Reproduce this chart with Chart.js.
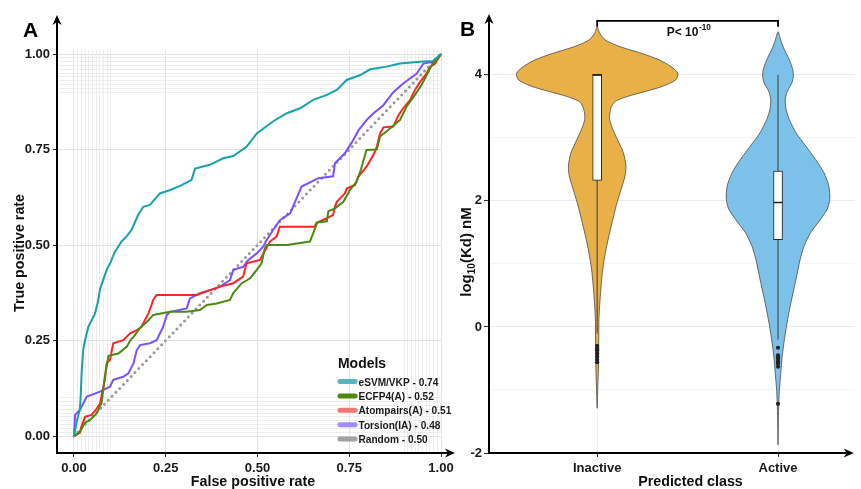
<!DOCTYPE html>
<html><head><meta charset="utf-8">
<script src="https://cdn.jsdelivr.net/npm/chart.js@4.4.1/dist/chart.umd.min.js"></script>
<style>
html,body{margin:0;padding:0;background:#fff;width:861px;height:489px;overflow:hidden;position:relative}
canvas{position:absolute;top:0}
#cA{left:0}
#cB{left:450px}
</style></head>
<body>
<canvas id="cA" width="460" height="489"></canvas>
<canvas id="cB" width="411" height="489"></canvas>
<script>
const FONT = "'Liberation Sans', Arial, Helvetica, sans-serif";

// ---------------- Panel A: ROC data ----------------
const modelNames = ['eSVM/VKP', 'ECFP4(A)', 'Atompairs(A)', 'Torsion(IA)', 'Random'];
const modelAUC = ['0.74', '0.52', '0.51', '0.48', '0.50'];

const esvmFPR = [0, 0.008, 0.016, 0.018, 0.021, 0.025, 0.030, 0.039, 0.052, 0.057, 0.065, 0.071, 0.080, 0.089, 0.100, 0.110, 0.120, 0.130, 0.143, 0.157, 0.175, 0.189, 0.207, 0.234, 0.262, 0.289, 0.320, 0.330, 0.370, 0.407, 0.434, 0.470, 0.498, 0.543, 0.580, 0.616, 0.652, 0.689, 0.716, 0.743, 0.780, 0.807, 0.852, 0.888, 0.943, 0.978, 1.0];
const esvmTPR = [0, 0.040, 0.070, 0.100, 0.170, 0.225, 0.250, 0.286, 0.310, 0.320, 0.350, 0.385, 0.410, 0.435, 0.455, 0.480, 0.495, 0.510, 0.522, 0.540, 0.579, 0.600, 0.605, 0.635, 0.644, 0.655, 0.670, 0.700, 0.710, 0.727, 0.733, 0.757, 0.792, 0.824, 0.845, 0.858, 0.880, 0.893, 0.906, 0.932, 0.945, 0.960, 0.967, 0.975, 0.980, 0.982, 1.0];

const ecfpFPR = [0, 0.016, 0.030, 0.044, 0.062, 0.075, 0.084, 0.094, 0.121, 0.144, 0.153, 0.166, 0.180, 0.203, 0.216, 0.262, 0.307, 0.343, 0.362, 0.389, 0.425, 0.434, 0.457, 0.480, 0.498, 0.511, 0.520, 0.525, 0.580, 0.643, 0.663, 0.689, 0.693, 0.711, 0.734, 0.752, 0.770, 0.780, 0.797, 0.825, 0.834, 0.861, 0.888, 0.906, 0.929, 0.947, 0.966, 0.975, 1.0];
const ecfpTPR = [0, 0.011, 0.035, 0.042, 0.060, 0.086, 0.155, 0.210, 0.216, 0.234, 0.250, 0.264, 0.283, 0.303, 0.317, 0.325, 0.325, 0.330, 0.343, 0.347, 0.356, 0.374, 0.400, 0.413, 0.435, 0.452, 0.491, 0.500, 0.500, 0.509, 0.559, 0.562, 0.588, 0.596, 0.613, 0.644, 0.666, 0.692, 0.749, 0.750, 0.784, 0.805, 0.827, 0.862, 0.893, 0.919, 0.954, 0.971, 1.0];

const atomFPR = [0, 0.016, 0.020, 0.030, 0.048, 0.062, 0.071, 0.084, 0.089, 0.098, 0.107, 0.134, 0.153, 0.171, 0.184, 0.193, 0.203, 0.216, 0.225, 0.334, 0.371, 0.398, 0.434, 0.461, 0.470, 0.507, 0.516, 0.534, 0.552, 0.561, 0.655, 0.661, 0.689, 0.706, 0.711, 0.716, 0.738, 0.743, 0.766, 0.775, 0.797, 0.816, 0.825, 0.834, 0.843, 0.870, 0.884, 0.897, 0.916, 0.929, 0.943, 0.961, 0.970, 0.984, 1.0];
const atomTPR = [0, 0.008, 0.024, 0.050, 0.055, 0.072, 0.085, 0.147, 0.190, 0.199, 0.243, 0.251, 0.269, 0.277, 0.286, 0.303, 0.321, 0.356, 0.369, 0.369, 0.382, 0.391, 0.400, 0.417, 0.452, 0.461, 0.478, 0.509, 0.522, 0.548, 0.548, 0.558, 0.570, 0.579, 0.600, 0.613, 0.635, 0.648, 0.657, 0.679, 0.705, 0.736, 0.757, 0.792, 0.808, 0.810, 0.840, 0.858, 0.880, 0.906, 0.927, 0.949, 0.966, 0.975, 1.0];

const torsFPR = [0, 0.003, 0.016, 0.035, 0.071, 0.098, 0.107, 0.134, 0.148, 0.162, 0.171, 0.180, 0.207, 0.225, 0.243, 0.253, 0.262, 0.307, 0.316, 0.343, 0.371, 0.398, 0.425, 0.434, 0.461, 0.475, 0.498, 0.516, 0.525, 0.543, 0.561, 0.589, 0.620, 0.666, 0.706, 0.711, 0.738, 0.761, 0.775, 0.797, 0.816, 0.843, 0.870, 0.897, 0.934, 0.952, 0.980, 1.0];
const torsTPR = [0, 0.055, 0.068, 0.103, 0.116, 0.129, 0.147, 0.155, 0.164, 0.190, 0.225, 0.238, 0.243, 0.251, 0.286, 0.317, 0.325, 0.334, 0.360, 0.374, 0.382, 0.391, 0.408, 0.435, 0.443, 0.461, 0.478, 0.496, 0.513, 0.540, 0.565, 0.583, 0.653, 0.675, 0.680, 0.714, 0.740, 0.775, 0.800, 0.827, 0.845, 0.866, 0.900, 0.923, 0.949, 0.975, 0.980, 1.0];

const randFPR = [0, 1];
const randTPR = [0, 1];

const majorTicksA = [0, 0.25, 0.5, 0.75, 1];
const minorGridA = [0.01, 0.02, 0.03, 0.04, 0.05, 0.06, 0.07, 0.08, 0.09, 0.1, 0.9, 0.91, 0.92, 0.93, 0.94, 0.95, 0.96, 0.97, 0.98, 0.99];

// ---------------- Panel B: violin data ----------------
const classNames = ['Inactive', 'Active'];
const classPos = [1, 2];
const inactiveY  = [-1.29, -0.921, -0.658, -0.395, -0.132, 0.132, 0.395, 0.658, 0.921, 1.184, 1.447, 1.711, 1.921, 2.132, 2.395, 2.553, 2.763, 2.974, 3.132, 3.289, 3.395, 3.50, 3.58, 3.66, 3.74, 3.816, 3.921, 4.026, 4.132, 4.237, 4.342, 4.447, 4.553, 4.658, 4.763];
const inactiveHW = [0, 0.004, 0.007, 0.008, 0.009, 0.010, 0.015, 0.022, 0.031, 0.046, 0.065, 0.087, 0.105, 0.127, 0.154, 0.159, 0.145, 0.112, 0.087, 0.069, 0.070, 0.080, 0.100, 0.170, 0.270, 0.360, 0.435, 0.446, 0.408, 0.344, 0.245, 0.127, 0.045, 0.0145, 0];
const activeY  = [-1.868, -1.447, -1.237, -1.026, -0.816, -0.5, -0.184, 0.132, 0.447, 0.763, 1.079, 1.289, 1.5, 1.711, 1.868, 2.026, 2.237, 2.447, 2.658, 2.868, 3.079, 3.289, 3.447, 3.605, 3.737, 3.868, 3.974, 4.079, 4.237, 4.395, 4.553, 4.684];
const activeHW = [0, 0.002, 0.004, 0.007, 0.013, 0.022, 0.036, 0.054, 0.076, 0.100, 0.123, 0.145, 0.181, 0.236, 0.272, 0.286, 0.281, 0.254, 0.208, 0.154, 0.100, 0.063, 0.045, 0.040, 0.051, 0.076, 0.085, 0.082, 0.063, 0.036, 0.0145, 0];

const boxQ1 = [2.326, 1.384];
const boxQ3 = [4.0, 2.474];
const boxMedian = [4.0, 1.974];
const whiskerLow = [-0.10, -0.20];
const whiskerHigh = [4.0, 4.0];
const inactiveOutliers = [-0.30, -0.34, -0.37, -0.42, -0.47, -0.52, -0.56];
const activeOutliers = [-0.33, -0.45, -0.48, -0.51, -0.55, -0.58, -0.63, -1.22];
const bracketY = [4.762, 4.857];
const yTicksB = [-2, -1, 0, 1, 2, 3, 4];
const yLabelTicksB = [-2, 0, 2, 4];

// ---------------- styles ----------------
const lineColors = ['#17A2A8', '#4B8A0E', '#FF2424', '#7B50FF', '#999999'];
const legendColors = ['#58B7BE', '#4B8A0E', '#F27878', '#A68AFF', '#A2A2A2'];
const violinColors = ['#E8B047', '#7CC1EA'];

function pts(xs, ys) { return xs.map((x, i) => ({x: x, y: ys[i]})); }

// text drawn with slight horizontal compression (condensed look)
function ctext(ctx, t, x, y, size, align, sx) {
  ctx.save();
  ctx.font = 'bold ' + size + 'px ' + FONT;
  const w = ctx.measureText(t).width * sx;
  let left = x;
  if (align === 'center') left = x - w / 2; else if (align === 'right') left = x - w;
  ctx.translate(left, y); ctx.scale(sx, 1);
  ctx.textAlign = 'left';
  ctx.fillText(t, 0, 0);
  ctx.restore();
  return w;
}

function drawArrows(ctx, x0, y0, xEnd, yEnd) {
  ctx.save();
  ctx.strokeStyle = '#000'; ctx.fillStyle = '#000'; ctx.lineWidth = 2;
  ctx.beginPath(); ctx.moveTo(x0, y0); ctx.lineTo(xEnd - 5, y0); ctx.stroke();
  ctx.beginPath(); ctx.moveTo(x0, y0 + 1); ctx.lineTo(x0, yEnd + 5); ctx.stroke();
  ctx.beginPath(); ctx.moveTo(xEnd, y0); ctx.lineTo(xEnd - 10, y0 - 4.5); ctx.lineTo(xEnd - 7, y0); ctx.lineTo(xEnd - 10, y0 + 4.5); ctx.closePath(); ctx.fill();
  ctx.beginPath(); ctx.moveTo(x0, yEnd); ctx.lineTo(x0 - 4.5, yEnd + 10); ctx.lineTo(x0, yEnd + 7); ctx.lineTo(x0 + 4.5, yEnd + 10); ctx.closePath(); ctx.fill();
  ctx.restore();
}

function rotatedText(ctx, cx, cy, parts, sx) {
  ctx.save();
  ctx.translate(cx, cy); ctx.rotate(-Math.PI / 2); ctx.scale(sx, 1);
  let total = 0;
  parts.forEach(p => { ctx.font = 'bold ' + p.size + 'px ' + FONT; p.w = ctx.measureText(p.t).width; total += p.w; });
  let x = -total / 2;
  ctx.fillStyle = '#111'; ctx.textAlign = 'left'; ctx.textBaseline = 'alphabetic';
  parts.forEach(p => { ctx.font = 'bold ' + p.size + 'px ' + FONT; ctx.fillText(p.t, x, 5.5 + (p.dy || 0)); x += p.w; });
  ctx.restore();
}

// ---------------- Chart A ----------------
const decorA = {
  id: 'decorA',
  afterDatasetsDraw(chart) {
    const ctx = chart.ctx, a = chart.chartArea;
    drawArrows(ctx, a.left, a.bottom, a.right + 14, 15);
    ctx.save();
    ctx.fillStyle = '#000'; ctx.font = 'bold 21px ' + FONT; ctx.textAlign = 'center'; ctx.textBaseline = 'middle';
    ctx.fillText('A', 30.5, 31);
    ctx.fillStyle = '#111'; ctx.textBaseline = 'alphabetic';
    ctext(ctx, 'False positive rate', 253, 486, 15, 'center', 0.95);
    ctx.restore();
    rotatedText(ctx, 18.5, 253, [{t: 'True positive rate', size: 15}], 0.95);
    // legend
    ctx.save();
    ctx.fillStyle = '#111'; ctx.textBaseline = 'alphabetic';
    ctext(ctx, 'Models', 338, 368, 15, 'left', 0.93);
    chart.data.datasets.forEach((ds, i) => {
      const y = 381.5 + i * 14.4;
      ctx.strokeStyle = legendColors[i]; ctx.lineWidth = 5; ctx.lineCap = 'round';
      ctx.beginPath(); ctx.moveTo(340, y); ctx.lineTo(355, y); ctx.stroke();
      ctx.fillStyle = '#1a1a1a';
      ctext(ctx, modelNames[i] + ' - ' + modelAUC[i], 358.5, y + 4, 11, 'left', 0.92);
    });
    ctx.restore();
  }
};

const allTicksA = majorTicksA.concat(minorGridA);
function isMajorA(c) { return c.tick && majorTicksA.includes(c.tick.value); }
const tickFontA = {family: FONT, size: 13, weight: 'bold'};
function gridA() {
  return {color: c => isMajorA(c) ? '#E3E3E3' : '#EAEAEA', lineWidth: c => isMajorA(c) ? 1 : 0.8,
          tickLength: 4, tickColor: c => isMajorA(c) ? '#333' : 'rgba(0,0,0,0)'};
}

const seriesA = [pts(esvmFPR, esvmTPR), pts(ecfpFPR, ecfpTPR), pts(atomFPR, atomTPR), pts(torsFPR, torsTPR), pts(randFPR, randTPR)];

new Chart(document.getElementById('cA'), {
  type: 'line',
  data: {
    datasets: seriesA.map((d, i) => ({
      label: modelNames[i], data: d, borderColor: lineColors[i],
      borderWidth: i === 4 ? 3 : 2, borderDash: i === 4 ? [0, 5.5] : [], borderCapStyle: i === 4 ? 'round' : 'butt',
      pointRadius: 0, tension: 0, fill: false, clip: 8
    }))
  },
  options: {
    responsive: false, animation: false, devicePixelRatio: 1,
    layout: {padding: {left: 0, right: 19, top: 50, bottom: 0}},
    plugins: {legend: {display: false}, tooltip: {enabled: false}},
    scales: {
      x: {type: 'linear', min: -0.0463, max: 1.0, position: 'bottom',
        afterBuildTicks: s => { s.ticks = allTicksA.map(v => ({value: v})); },
        afterFit: s => { s.height = 36; s.paddingLeft = 0; s.paddingRight = 0; },
        ticks: {autoSkip: false, maxRotation: 0, padding: 4, color: '#1a1a1a', font: tickFontA,
                callback: v => majorTicksA.includes(v) ? v.toFixed(2) : ''},
        grid: gridA(), border: {display: false}},
      y: {type: 'linear', min: -0.0445, max: 1.0105, position: 'left',
        afterBuildTicks: s => { s.ticks = allTicksA.map(v => ({value: v})); },
        afterFit: s => { s.width = 57; s.paddingTop = 0; s.paddingBottom = 0; },
        ticks: {autoSkip: false, padding: 3, color: '#1a1a1a', font: tickFontA,
                callback: v => majorTicksA.includes(v) ? v.toFixed(2) : ''},
        grid: gridA(), border: {display: false}}
    }
  },
  plugins: [decorA]
});

// ---------------- Chart B ----------------
function violinPoints(center, ys, hws) {
  const right = ys.map((y, i) => ({x: center + hws[i], y: y}));
  const left = ys.map((y, i) => ({x: center - hws[i], y: y})).reverse();
  return right.concat(left.slice(1));
}

const decorB = {
  id: 'decorB',
  afterDatasetsDraw(chart) {
    const ctx = chart.ctx, a = chart.chartArea, xs = chart.scales.x, ys = chart.scales.y;
    drawArrows(ctx, a.left, a.bottom, a.right - 1, a.top - 1);
    ctx.save();
    ctx.fillStyle = '#000'; ctx.font = 'bold 21px ' + FONT; ctx.textAlign = 'center'; ctx.textBaseline = 'middle';
    ctx.fillText('B', 17.5, 30);
    ctx.fillStyle = '#111'; ctx.textBaseline = 'alphabetic';
    ctext(ctx, 'Predicted class', 240.5, 486, 15, 'center', 0.95);
    // p-value text
    const cx = xs.getPixelForValue((classPos[0] + classPos[1]) / 2) + 1;
    const by = ys.getPixelForValue(4.617);
    ctx.font = 'bold 13px ' + FONT; const w1 = ctx.measureText('P< 10').width * 0.92;
    ctx.font = 'bold 9px ' + FONT; const w2 = ctx.measureText('-10').width * 0.92;
    const sx = cx - (w1 + w2) / 2;
    ctext(ctx, 'P< 10', sx, by, 13, 'left', 0.92);
    ctext(ctx, '-10', sx + w1 + 0.5, by - 5.5, 9, 'left', 0.92);
    ctx.restore();
    rotatedText(ctx, 15, 252, [{t: 'log', size: 15}, {t: '10', size: 10, dy: 4}, {t: '(Kd) nM', size: 15}], 1.0);
  }
};

const datasetsB = [];
[[inactiveY, inactiveHW], [activeY, activeHW]].forEach((v, i) => {
  datasetsB.push({type: 'line', data: violinPoints(classPos[i], v[0], v[1]), backgroundColor: violinColors[i],
    borderColor: '#4a4a4a', borderWidth: 0.8, fill: 'shape', tension: 0.25, pointRadius: 0, order: 10, clip: false});
});
classPos.forEach((c, i) => {
  datasetsB.push({type: 'line', data: [{x: c, y: whiskerLow[i]}, {x: c, y: boxQ1[i]}], borderColor: '#3a3a3a', borderWidth: 1, pointRadius: 0, fill: false, order: 8});
  if (whiskerHigh[i] > boxQ3[i]) {
    datasetsB.push({type: 'line', data: [{x: c, y: boxQ3[i]}, {x: c, y: whiskerHigh[i]}], borderColor: '#3a3a3a', borderWidth: 1, pointRadius: 0, fill: false, order: 8});
  }
});
datasetsB.push({type: 'bar', data: classPos.map((c, i) => ({x: c, y: [boxQ1[i], boxQ3[i]]})), backgroundColor: '#ffffff',
  borderColor: '#2a2a2a', borderWidth: 1, borderSkipped: false, barThickness: 9, grouped: false, order: 6});
datasetsB.push({type: 'line', showLine: false, data: classPos.map((c, i) => ({x: c, y: boxMedian[i]})), pointStyle: 'line',
  pointRadius: 4.7, pointBorderWidth: 1.6, pointBorderColor: '#222', order: 4});
datasetsB.push({type: 'line', showLine: false, data: inactiveOutliers.map(y => ({x: classPos[0], y: y})).concat(activeOutliers.map(y => ({x: classPos[1], y: y}))),
  pointRadius: 2.1, pointBackgroundColor: '#222', pointBorderColor: '#222', pointBorderWidth: 0, order: 3});
datasetsB.push({type: 'line', data: [{x: classPos[0], y: bracketY[0]}, {x: classPos[0], y: bracketY[1]}, {x: classPos[1], y: bracketY[1]}, {x: classPos[1], y: bracketY[0]}],
  borderColor: '#000', borderWidth: 1.8, pointRadius: 0, tension: 0, fill: false, order: 1, clip: false});

function isMajorB(c) { return c.tick && yLabelTicksB.includes(c.tick.value); }
const tickFontB = {family: FONT, size: 13, weight: 'bold'};

new Chart(document.getElementById('cB'), {
  type: 'line',
  data: {datasets: datasetsB},
  options: {
    responsive: false, animation: false, devicePixelRatio: 1,
    layout: {padding: {left: 0, right: 0, top: 15, bottom: 0}},
    plugins: {legend: {display: false}, tooltip: {enabled: false}},
    scales: {
      x: {type: 'linear', min: 0.402, max: 2.424, offset: false,
        afterBuildTicks: s => { s.ticks = classPos.map(v => ({value: v})); },
        afterFit: s => { s.height = 36; s.paddingLeft = 0; s.paddingRight = 0; },
        ticks: {autoSkip: false, maxRotation: 0, padding: 4, color: '#1a1a1a', font: tickFontB,
                callback: v => classNames[classPos.indexOf(v)]},
        grid: {offset: false, color: '#EFEFEF', lineWidth: 1, tickLength: 4, tickColor: '#333'},
        border: {display: false}},
      y: {type: 'linear', min: -2, max: 4.95,
        afterBuildTicks: s => { s.ticks = yTicksB.map(v => ({value: v})); },
        afterFit: s => { s.width = 39; s.paddingTop = 0; s.paddingBottom = 0; },
        ticks: {autoSkip: false, padding: 2, color: '#1a1a1a', font: tickFontB,
                callback: v => yLabelTicksB.includes(v) ? String(v) : ''},
        grid: {color: c => isMajorB(c) ? '#EBEBEB' : '#F4F4F4', lineWidth: 1, tickLength: 5,
               tickColor: c => isMajorB(c) ? '#333' : 'rgba(0,0,0,0)'},
        border: {display: false}}
    }
  },
  plugins: [decorB]
});
</script>
</body></html>
